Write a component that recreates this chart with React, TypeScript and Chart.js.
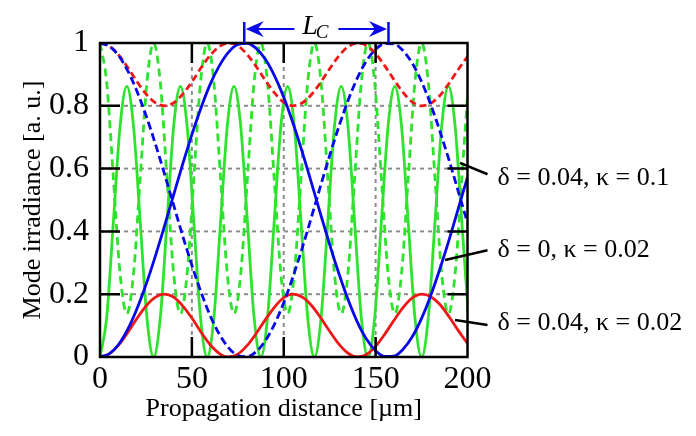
import { useEffect, useRef } from "react";
import { Chart, registerables } from "chart.js";

Chart.register(...registerables);

// ---- data ----
const xTicks = [0, 50, 100, 150, 200];
const yTicks = [0, 0.2, 0.4, 0.6, 0.8, 1];

// sampling positions for the slow curves (µm)
const slowX = [
  0, 5, 10, 15, 20, 25, 30, 35, 40, 45, 50, 55, 60, 65, 70, 75, 80, 85, 90, 95, 100,
  105, 110, 115, 120, 125, 130, 135, 140, 145, 150, 155, 160, 165, 170, 175, 180, 185, 190, 195, 200,
];

// δ = 0, κ = 0.02
const blueSolid = [
  0, 0.01, 0.039, 0.087, 0.152, 0.23, 0.319, 0.415, 0.515, 0.614, 0.708, 0.794, 0.869, 0.928, 0.971,
  0.995, 0.999, 0.983, 0.948, 0.895, 0.827, 0.745, 0.654, 0.556, 0.456, 0.358, 0.266, 0.183, 0.112,
  0.057, 0.02, 0.002, 0.003, 0.025, 0.065, 0.123, 0.196, 0.281, 0.374, 0.473, 0.573,
];
const blueDashed = [
  1, 0.99, 0.961, 0.913, 0.848, 0.77, 0.681, 0.585, 0.485, 0.386, 0.292, 0.206, 0.131, 0.072, 0.029,
  0.005, 0.001, 0.017, 0.052, 0.105, 0.173, 0.255, 0.346, 0.444, 0.544, 0.642, 0.734, 0.817, 0.888,
  0.943, 0.98, 0.998, 0.997, 0.975, 0.935, 0.877, 0.804, 0.719, 0.626, 0.527, 0.427,
];

// δ = 0.04, κ = 0.02
const redSolid = [
  0, 0.01, 0.037, 0.077, 0.122, 0.162, 0.19, 0.2, 0.191, 0.163, 0.124, 0.079, 0.039, 0.011, 0,
  0.009, 0.036, 0.075, 0.119, 0.159, 0.189, 0.2, 0.191, 0.165, 0.126, 0.082, 0.041, 0.012, 0,
  0.008, 0.034, 0.073, 0.117, 0.158, 0.188, 0.2, 0.192, 0.167, 0.128, 0.084, 0.043,
];
const redDashed = [
  1, 0.99, 0.963, 0.923, 0.878, 0.838, 0.81, 0.8, 0.809, 0.837, 0.876, 0.921, 0.961, 0.989, 1,
  0.991, 0.964, 0.925, 0.881, 0.841, 0.811, 0.8, 0.809, 0.835, 0.874, 0.918, 0.959, 0.988, 1,
  0.992, 0.966, 0.927, 0.883, 0.842, 0.812, 0.8, 0.808, 0.833, 0.872, 0.916, 0.957,
];

// δ = 0.04, κ = 0.1 (sampled every 1/8 of its period)
const greenX = [
  0, 3.65, 7.29, 10.94, 14.59, 18.23, 21.88, 25.52, 29.17, 32.82, 36.46, 40.11, 43.76, 47.4,
  51.05, 54.69, 58.34, 61.99, 65.63, 69.28, 72.93, 76.57, 80.22, 83.86, 87.51, 91.16, 94.8, 98.45,
  102.1, 105.74, 109.39, 113.03, 116.68, 120.33, 123.97, 127.62, 131.27, 134.91, 138.56, 142.2,
  145.85, 149.5, 153.14, 156.79, 160.44, 164.08, 167.73, 171.37, 175.02, 178.67, 182.31, 185.96,
  189.61, 193.25, 196.9, 200.54,
];
const greenSolid = [
  0, 0.126, 0.431, 0.736, 0.862, 0.736, 0.431, 0.126,
  0, 0.126, 0.431, 0.736, 0.862, 0.736, 0.431, 0.126,
  0, 0.126, 0.431, 0.736, 0.862, 0.736, 0.431, 0.126,
  0, 0.126, 0.431, 0.736, 0.862, 0.736, 0.431, 0.126,
  0, 0.126, 0.431, 0.736, 0.862, 0.736, 0.431, 0.126,
  0, 0.126, 0.431, 0.736, 0.862, 0.736, 0.431, 0.126,
  0, 0.126, 0.431, 0.736, 0.862, 0.736, 0.431, 0.126,
];
const greenDashed = [
  1, 0.874, 0.569, 0.264, 0.138, 0.264, 0.569, 0.874,
  1, 0.874, 0.569, 0.264, 0.138, 0.264, 0.569, 0.874,
  1, 0.874, 0.569, 0.264, 0.138, 0.264, 0.569, 0.874,
  1, 0.874, 0.569, 0.264, 0.138, 0.264, 0.569, 0.874,
  1, 0.874, 0.569, 0.264, 0.138, 0.264, 0.569, 0.874,
  1, 0.874, 0.569, 0.264, 0.138, 0.264, 0.569, 0.874,
  1, 0.874, 0.569, 0.264, 0.138, 0.264, 0.569, 0.874,
];

// coupling length marks (µm)
const couplingMarks = [78.5, 157];
const curveLabels = ["δ = 0.04, κ = 0.1", "δ = 0, κ = 0.02", "δ = 0.04, κ = 0.02"];

const SERIF = '"Liberation Serif", "Times New Roman", serif';
const BLUE = "#0808e8";
const RED = "#ee1818";
const GREEN = "#2ee22e";

const zip = (xs: number[], ys: number[]) => xs.map((x, i) => ({ x, y: ys[i] }));

const framePlugin = {
  id: "framePlugin",
  beforeDatasetsDraw(chart: any) {
    const { ctx, chartArea: a, scales } = chart;
    const xs = scales.x;
    const ys = scales.y;
    ctx.save();
    ctx.strokeStyle = "#8c8c8c";
    ctx.lineWidth = 2;
    ctx.setLineDash([4, 4]);
    xTicks.slice(1, -1).forEach((v) => {
      const px = xs.getPixelForValue(v);
      ctx.beginPath();
      ctx.moveTo(px, a.top);
      ctx.lineTo(px, a.bottom);
      ctx.stroke();
    });
    yTicks.slice(1, -1).forEach((v) => {
      const py = ys.getPixelForValue(v);
      ctx.beginPath();
      ctx.moveTo(a.left, py);
      ctx.lineTo(a.right, py);
      ctx.stroke();
    });
    ctx.restore();
  },
  afterDraw(chart: any) {
    const { ctx, chartArea: a, scales } = chart;
    const xs = scales.x;
    const ys = scales.y;
    ctx.save();
    ctx.setLineDash([]);
    ctx.strokeStyle = "#000";
    ctx.lineWidth = 2.5;
    const TL = 20;
    xTicks.slice(1, -1).forEach((v) => {
      const px = xs.getPixelForValue(v);
      ctx.beginPath();
      ctx.moveTo(px, a.top);
      ctx.lineTo(px, a.top + TL);
      ctx.moveTo(px, a.bottom);
      ctx.lineTo(px, a.bottom - TL);
      ctx.stroke();
    });
    yTicks.slice(1, -1).forEach((v) => {
      const py = ys.getPixelForValue(v);
      ctx.beginPath();
      ctx.moveTo(a.left, py);
      ctx.lineTo(a.left + TL, py);
      ctx.moveTo(a.right, py);
      ctx.lineTo(a.right - TL, py);
      ctx.stroke();
    });
    ctx.strokeRect(a.left, a.top, a.right - a.left, a.bottom - a.top);

    // curve labels with leader lines
    const anchors = [
      [195.9, 0.618],
      [187.8, 0.309],
      [193.2, 0.118],
    ];
    const labelY = [0.57, 0.341, 0.108];
    ctx.lineWidth = 2.5;
    ctx.font = `26px ${SERIF}`;
    ctx.fillStyle = "#000";
    ctx.textBaseline = "middle";
    ctx.textAlign = "left";
    const ends = [0.582, 0.34, 0.102];
    curveLabels.forEach((t, i) => {
      const sx = xs.getPixelForValue(anchors[i][0]);
      const sy = ys.getPixelForValue(anchors[i][1]);
      const ex = a.right + 20;
      const ey = ys.getPixelForValue(ends[i]);
      ctx.beginPath();
      ctx.moveTo(sx, sy);
      ctx.lineTo(ex, ey);
      ctx.stroke();
      ctx.fillText(t, a.right + 30, ys.getPixelForValue(labelY[i]));
    });

    // L_C marker
    const xL = xs.getPixelForValue(couplingMarks[0]);
    const xR = xs.getPixelForValue(couplingMarks[1]);
    const yA = a.top - 14;
    const mid = (xL + xR) / 2;
    ctx.strokeStyle = BLUE;
    ctx.fillStyle = BLUE;
    ctx.lineWidth = 2.5;
    ctx.beginPath();
    ctx.moveTo(xL, a.top - 21);
    ctx.lineTo(xL, a.top);
    ctx.moveTo(xR, a.top - 21);
    ctx.lineTo(xR, a.top);
    ctx.stroke();
    ctx.lineWidth = 2.2;
    ctx.beginPath();
    ctx.moveTo(xL + 8, yA);
    ctx.lineTo(mid - 22, yA);
    ctx.moveTo(mid + 22, yA);
    ctx.lineTo(xR - 8, yA);
    ctx.stroke();
    const head = (tip: number, dir: number) => {
      ctx.beginPath();
      ctx.moveTo(tip, yA);
      ctx.lineTo(tip + dir * 18, yA - 8);
      ctx.lineTo(tip + dir * 12, yA);
      ctx.lineTo(tip + dir * 18, yA + 8);
      ctx.closePath();
      ctx.fill();
    };
    head(xL + 1.5, 1);
    head(xR - 1.5, -1);
    ctx.fillStyle = "#000";
    ctx.textBaseline = "alphabetic";
    ctx.font = `italic 28px ${SERIF}`;
    const wL = ctx.measureText("L").width;
    ctx.font = `italic 19px ${SERIF}`;
    const wC = ctx.measureText("C").width;
    const sx0 = mid - (wL + wC) / 2;
    ctx.font = `italic 28px ${SERIF}`;
    ctx.fillText("L", sx0, a.top - 9);
    ctx.font = `italic 19px ${SERIF}`;
    ctx.fillText("C", sx0 + wL - 2, a.top - 5);
    ctx.restore();
  },
};

export default function App() {
  const ref = useRef<HTMLCanvasElement | null>(null);
  useEffect(() => {
    if (!ref.current) return;
    const solid = (color: string, data: any) => ({
      data,
      borderColor: color,
      borderWidth: 2.8,
      pointRadius: 0,
      fill: false,
      cubicInterpolationMode: "monotone" as const,
    });
    const dashed = (color: string, data: any, dash: number[]) => ({
      ...solid(color, data),
      borderDash: dash,
    });
    const chart = new Chart(ref.current, {
      type: "line",
      data: {
        datasets: [
          solid(BLUE, zip(slowX, blueSolid)),
          dashed(BLUE, zip(slowX, blueDashed), [8, 4]),
          solid(RED, zip(slowX, redSolid)),
          dashed(RED, zip(slowX, redDashed), [7, 4]),
          solid(GREEN, zip(greenX, greenSolid)),
          dashed(GREEN, zip(greenX, greenDashed), [8, 5]),
        ] as any,
      },
      options: {
        responsive: false,
        animation: false,
        layout: { padding: { left: 0, top: 43, right: 228.5, bottom: 0 } },
        plugins: { legend: { display: false }, tooltip: { enabled: false } },
        scales: {
          x: {
            type: "linear",
            min: 0,
            max: 200,
            afterFit: (s: any) => {
              s.height = 79;
            },
            afterBuildTicks: (s: any) => {
              s.ticks = xTicks.map((v) => ({ value: v }));
            },
            ticks: {
              color: "#000",
              font: { family: SERIF, size: 32 },
              padding: 3,
              maxRotation: 0,
              autoSkip: false,
              callback: (v: any) => String(v),
            },
            grid: { display: false, drawTicks: false },
            border: { display: false },
            title: {
              display: true,
              text: "Propagation distance [µm]",
              color: "#000",
              font: { family: SERIF, size: 26 },
              padding: { top: 0, bottom: 11 },
            },
          },
          y: {
            type: "linear",
            min: 0,
            max: 1,
            afterFit: (s: any) => {
              s.width = 100;
            },
            afterBuildTicks: (s: any) => {
              s.ticks = yTicks.map((v) => ({ value: v }));
            },
            ticks: {
              color: "#000",
              font: { family: SERIF, size: 32 },
              padding: 11,
              autoSkip: false,
              callback: (v: any) => String(v),
            },
            grid: { display: false, drawTicks: false },
            border: { display: false },
            title: {
              display: true,
              text: "Mode irradiance [a. u.]",
              color: "#000",
              font: { family: SERIF, size: 26 },
              padding: { top: 18, bottom: 0 },
            },
          },
        },
      },
      plugins: [framePlugin],
    });
    return () => chart.destroy();
  }, []);
  return (
    <div style={{ position: "fixed", left: 0, top: 0, width: 696, height: 436, background: "#fff" }}>
      <canvas ref={ref} width={696} height={436} style={{ display: "block" }} />
    </div>
  );
}
